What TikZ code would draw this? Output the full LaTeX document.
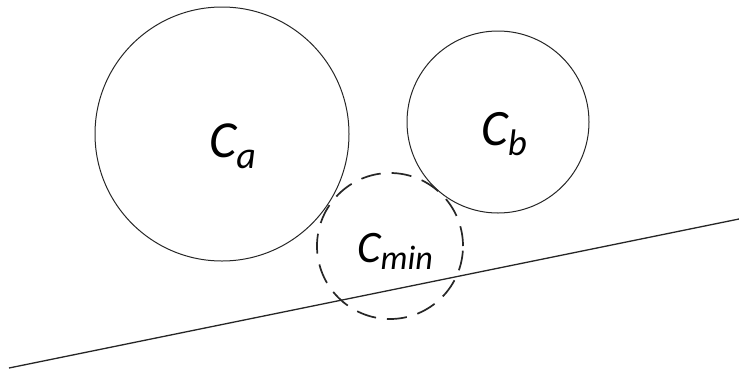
\documentclass[tikz,border=0pt]{standalone}
\usepackage{fontspec}
\setmainfont{Carlito}
\tikzset{
  solidcirc/.style={circle, draw=black!85, line width=1pt, inner sep=0pt},
  dashcirc/.style={circle, draw=black!85, line width=1.7pt, inner sep=0pt, dash pattern=on 20pt off 11pt},
  lbl/.style={anchor=base west, inner sep=0pt, text=black},
  tline/.style={draw=black!85, line width=1.3pt}
}
\newcommand{\circlabel}[5]{{\fontsize{#2}{#2}\selectfont\itshape #1\raisebox{-#5pt}{\fontsize{#4}{#4}\selectfont #3}}}
\begin{document}
\begin{tikzpicture}[x=1pt,y=-1pt]
  \useasboundingbox (0,0) rectangle (739,373);
  \node[solidcirc, minimum size=254pt] (ca) at (222,134) {};
  \node[solidcirc, minimum size=182pt] (cb) at (498,122) {};
  \node[dashcirc, minimum size=146pt] (cmin) at (390,246) {};
  \coordinate (l1) at (9,368);
  \coordinate (l2) at (739,219);
  \draw[tline] (l1) -- (l2);
  \node[lbl] (tca) at (209,157) {\circlabel{C}{52}{a}{38}{11}};
  \node[lbl] (tcb) at (481,145) {\circlabel{C}{51}{b}{37}{10}};
  \node[lbl] (tcmin) at (357,262) {\circlabel{C}{45}{min}{34}{7}};
\end{tikzpicture}
\end{document}
